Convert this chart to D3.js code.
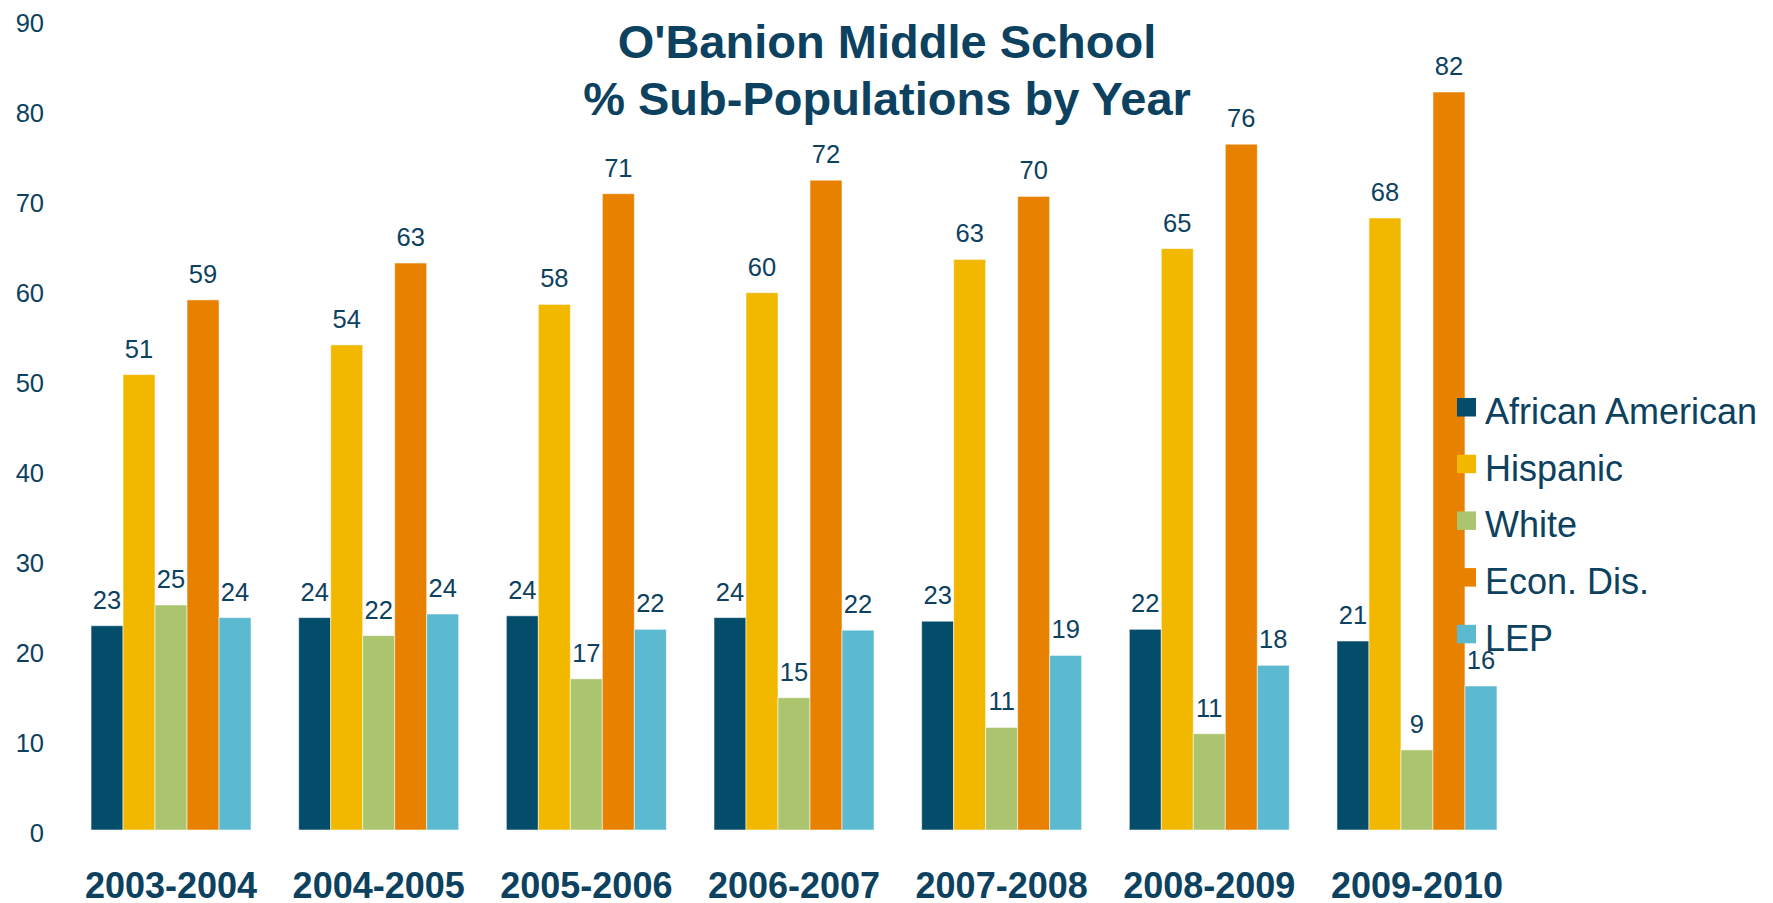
<!DOCTYPE html>
<html>
<head>
<meta charset="utf-8">
<script src="https://cdn.jsdelivr.net/npm/d3@7"></script>
<style>
  html, body { margin: 0; padding: 0; background: #ffffff; }
  svg { display: block; }
  text { font-family: "Liberation Sans", Arial, sans-serif; }
</style>
</head>
<body>
<svg id="chart" width="1773" height="903"></svg>
<script>
// ---- Data ----
const years = ["2003-2004", "2004-2005", "2005-2006", "2006-2007", "2007-2008", "2008-2009", "2009-2010"];
const seriesNames = ["African American", "Hispanic", "White", "Econ. Dis.", "LEP"];
const africanAmerican = [22.7, 23.6, 23.8, 23.6, 23.2, 22.3, 21.0];
const hispanic        = [50.6, 53.9, 58.4, 59.7, 63.4, 64.6, 68.0];
const white           = [25.0, 21.6, 16.8, 14.7, 11.4, 10.7, 8.9];
const econDis         = [58.9, 63.0, 70.7, 72.2, 70.4, 76.2, 82.0];
const lep             = [23.6, 24.0, 22.3, 22.2, 19.4, 18.3, 16.0];
const yTicks = [0, 10, 20, 30, 40, 50, 60, 70, 80, 90];
const titleLines = ["O'Banion Middle School", "% Sub-Populations by Year"];

// ---- Styles ----
const colors = ["#034D6B", "#F2B800", "#ABC46E", "#E88000", "#5BBAD0"];
const textColor = "#0C4160";

const seriesValues = [africanAmerican, hispanic, white, econDis, lep];
const rows = years.map((y, i) => ({
  year: y,
  values: seriesNames.map((s, k) => ({ series: s, value: seriesValues[k][i], k }))
}));

const svg = d3.select("#chart");

// ---- Scales ----
const x = d3.scaleBand()
  .domain(years)
  .range([67.2, 1520.8])
  .paddingInner(0.2295)
  .paddingOuter(0.1148);

const xs = d3.scaleBand()
  .domain(seriesNames)
  .range([0, x.bandwidth()]);

const y = d3.scaleLinear()
  .domain([0, 90])
  .range([830, 20]);

const color = d3.scaleOrdinal().domain(seriesNames).range(colors);

// ---- Y axis (labels only) ----
const yAxis = svg.append("g")
  .attr("transform", "translate(44,0)")
  .call(d3.axisLeft(y).tickValues(yTicks).tickSize(0).tickPadding(0).tickFormat(d3.format("d")));
yAxis.select(".domain").remove();
yAxis.selectAll("text")
  .attr("fill", textColor)
  .style("font-size", "25.5px")
  .style("font-family", "'Liberation Sans', Arial, sans-serif")
  .attr("dy", "0.46em");

// ---- X axis (labels only) ----
const xAxis = svg.append("g")
  .attr("transform", "translate(0,830)")
  .call(d3.axisBottom(x).tickSize(0).tickPadding(0));
xAxis.select(".domain").remove();
xAxis.selectAll("text")
  .attr("fill", textColor)
  .attr("y", 68)
  .attr("dy", 0)
  .style("font-size", "36px")
  .style("font-weight", "bold")
  .style("font-family", "'Liberation Sans', Arial, sans-serif");

// ---- Bars ----
const groups = svg.append("g").selectAll("g")
  .data(rows)
  .join("g")
  .attr("transform", d => `translate(${x(d.year)},0)`);

groups.selectAll("rect")
  .data(d => d.values)
  .join("rect")
  .attr("x", d => xs(d.series))
  .attr("width", xs.bandwidth())
  .attr("y", d => y(d.value))
  .attr("height", d => y(0) - y(d.value))
  .attr("fill", d => color(d.series))
  .attr("stroke", "rgba(255,255,255,0.55)")
  .attr("stroke-width", 1);

// ---- Data labels ----
groups.selectAll("text.lbl")
  .data(d => d.values)
  .join("text")
  .attr("class", "lbl")
  .attr("x", d => xs(d.series) + xs.bandwidth() / 2)
  .attr("y", d => y(d.value) - 17)
  .attr("text-anchor", "middle")
  .attr("fill", textColor)
  .style("font-size", "25.5px")
  .text(d => d3.format(".0f")(d.value));

// ---- Title ----
svg.append("g").selectAll("text")
  .data(titleLines)
  .join("text")
  .attr("x", 887)
  .attr("y", (d, i) => 58 + i * 57)
  .attr("text-anchor", "middle")
  .attr("fill", textColor)
  .style("font-size", "47px")
  .style("font-weight", "bold")
  .text(d => d);

// ---- Legend ----
const legend = svg.append("g")
  .attr("transform", "translate(1457,398)")
  .selectAll("g")
  .data(seriesNames)
  .join("g")
  .attr("transform", (d, i) => `translate(0,${i * 56.7})`);

legend.append("rect")
  .attr("width", 19)
  .attr("height", 18.5)
  .attr("fill", d => color(d));

legend.append("text")
  .attr("x", 28)
  .attr("y", 26)
  .attr("fill", textColor)
  .style("font-size", "36px")
  .text(d => d);
</script>
</body>
</html>
